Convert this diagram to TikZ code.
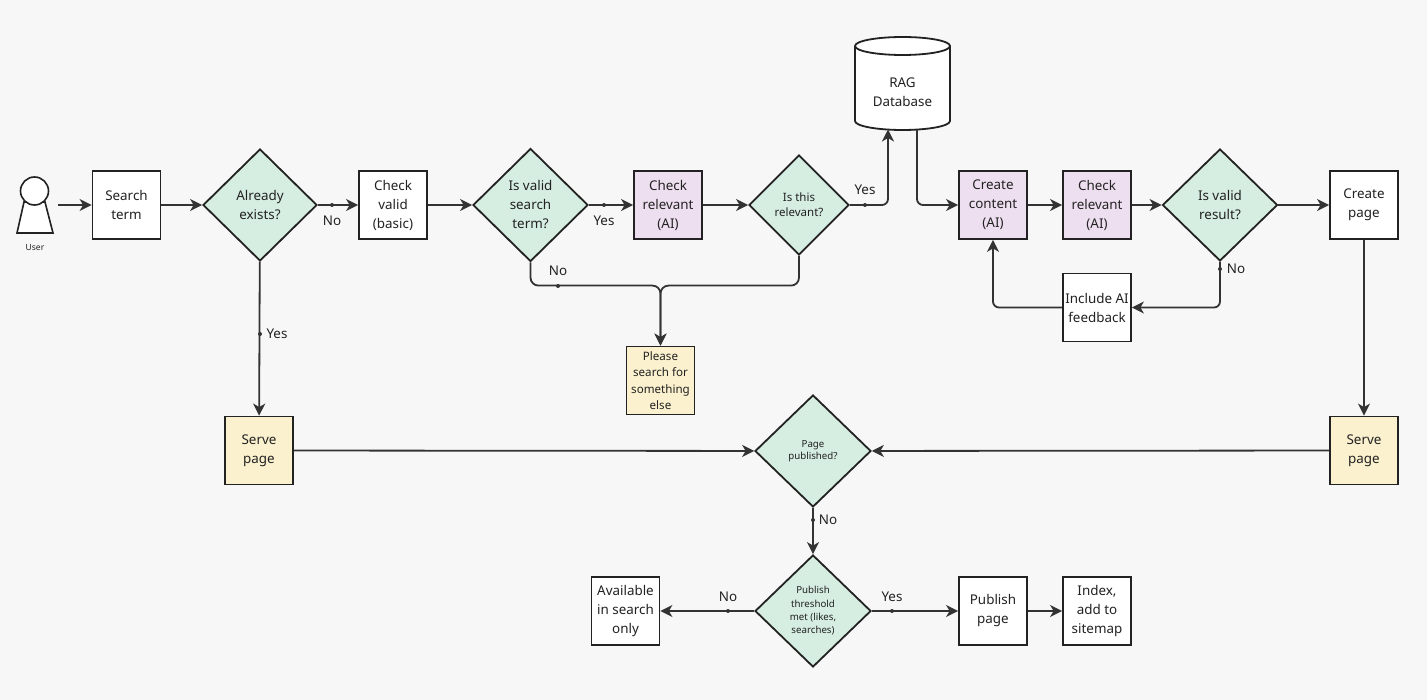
\documentclass[tikz,border=0pt]{standalone}
\usepackage{fontspec}
\setmainfont{Noto Sans}
\usetikzlibrary{shapes.geometric,arrows.meta,calc}
\definecolor{bg}{HTML}{F7F7F7}
\definecolor{ink}{HTML}{222222}
\definecolor{wire}{HTML}{333333}
\definecolor{dgreen}{HTML}{D6EDE1}
\definecolor{dpink}{HTML}{EEDFF0}
\definecolor{dyellow}{HTML}{FBF1CE}
\newcommand\fsz[2]{\fontsize{#1}{#2}\selectfont}
\begin{document}
\begin{tikzpicture}[x=1pt,y=-1pt,
  box/.style={draw=ink, line width=1.8pt, fill=white, minimum width=68pt, minimum height=68pt,
    inner sep=1pt, align=center, text=ink, font=\fsz{13.4}{19}},
  aibox/.style={box, fill=dpink},
  servebox/.style={box, fill=dyellow},
  dia/.style={diamond, draw=ink, line width=1.8pt, fill=dgreen, aspect=1, inner sep=0pt,
    align=center, text=ink, font=\fsz{13.4}{19}, minimum width=114pt, minimum height=112pt},
  conn/.style={draw=wire, line width=1.8pt, -{Stealth[length=12pt,width=12pt,inset=3.5pt]}},
  dot/.style={circle, fill=wire, inner sep=0pt, minimum size=4pt},
  lbl/.style={font=\fsz{13.4}{16}, text=ink, inner sep=0pt}]
\useasboundingbox[fill=bg] (0,0) rectangle (1427,700);

% user actor
\node[minimum width=46pt, minimum height=60pt, inner sep=0pt] (user) at (35,205) {};
\filldraw[draw=ink, fill=white, line width=1.6pt] (24,202) -- (45,202) -- (53,233) -- (17,233) -- cycle;
\filldraw[draw=ink, fill=white, line width=1.6pt] (34.5,191) circle[radius=14];
\node[font=\fsz{8.5}{10}, text=ink] (userlbl) at (35,248) {User};

% cylinder
\filldraw[fill=white, draw=ink, line width=1.8pt] (855,46) -- (855,121)
  arc[start angle=180, end angle=0, x radius=47.5, y radius=9] -- (950,46)
  arc[start angle=0, end angle=-180, x radius=47.5, y radius=9] -- cycle;
\draw[draw=ink, line width=1.8pt] (855,46) arc[start angle=180, end angle=0, x radius=47.5, y radius=9];
\node[minimum width=95pt, minimum height=93pt, inner sep=0pt, align=center, text=ink, font=\fsz{13.4}{19}] (rag) at (902.5,92.5) {RAG\\Database};
\coordinate (ragin) at (888,129.5);
\coordinate (ragout) at (917,129.5);

% nodes
\node[box] (search) at (126.5,205) {Search\\term};
\node[dia] (exists) at (260,205) {Already\\exists?};
\node[box] (checkvalid) at (393,205) {Check\\valid\\(basic)};
\node[dia, minimum width=115pt, minimum height=113pt] (isvalid) at (530.5,205) {Is valid\\search\\term?};
\node[aibox] (checkrel) at (668,205) {Check\\relevant\\(AI)};
\node[dia, minimum width=100pt, minimum height=100pt, font=\fsz{11.5}{15}] (isrel) at (799,205) {Is this\\relevant?};
\node[aibox] (create) at (993,205) {Create\\content\\(AI)};
\node[aibox] (checkrel2) at (1097,205) {Check\\relevant\\(AI)};
\node[dia, minimum width=115pt] (isres) at (1220,205) {Is valid\\result?};
\node[box] (createpage) at (1364,205) {Create\\page};
\node[box] (incl) at (1097,307.5) {Include AI\\feedback};
\node[servebox, font=\fsz{11.6}{16.5}] (please) at (660.5,380.5) {Please\\search for\\something\\else};
\node[servebox] (serve1) at (259,450.5) {Serve\\page};
\node[servebox] (serve2) at (1364,450.5) {Serve\\page};
\node[dia, minimum width=116pt, font=\fsz{9.7}{12.5}] (pagepub) at (813,451) {Page\\published?};
\node[dia, minimum width=116pt, font=\fsz{9.7}{13.3}] (pubthr) at (813,611) {Publish\\threshold\\met (likes,\\searches)};
\node[box] (avail) at (625.5,611) {Available\\in search\\only};
\node[box] (pubpage) at (993,611) {Publish\\page};
\node[box] (index) at (1097,611) {Index,\\add to\\sitemap};

\coordinate (jn) at ($(please.north)+(0,-60)$);

% connectors
\draw[conn] (user) -- (search);
\draw[conn] (search) -- (exists);
\draw[conn] (exists) -- (checkvalid);
\draw[conn] (checkvalid) -- (isvalid);
\draw[conn] (isvalid) -- (checkrel);
\draw[conn] (checkrel) -- (isrel);
\draw[conn, rounded corners=6pt] (isrel.east) -| (ragin);
\draw[conn, rounded corners=6pt] (ragout) |- (create.west);
\draw[conn] (create) -- (checkrel2);
\draw[conn] (checkrel2) -- (isres);
\draw[conn] (isres) -- (createpage);
\draw[conn, rounded corners=6pt] (isres.south) |- (incl.east);
\draw[conn, rounded corners=6pt] (incl.west) -| (create.south);
\draw[conn] (createpage) -- (serve2);
\draw[conn] (serve2) -- (pagepub);
\draw[conn] (exists) -- (serve1);
\draw[conn] (serve1) -- (pagepub);
\draw[conn] (pagepub) -- (pubthr);
\draw[conn] (pubthr) -- (avail);
\draw[conn] (pubthr) -- (pubpage);
\draw[conn] (pubpage) -- (index);
\draw[conn, rounded corners=8pt] (isvalid.south) |- (jn) -- (please.north);
\draw[conn, rounded corners=8pt] (isrel.south) |- (jn) -- (please.north);

% dots and labels
\node[dot] (d1) at (332,205) {};
\node[lbl] (l1) at (332,221) {No};
\node[dot] (d2) at (604,205) {};
\node[lbl] (l2) at (604,221) {Yes};
\node[dot] (d3) at (865,205) {};
\node[lbl] (l3) at (865,190) {Yes};
\node[dot] (d4) at (558,286) {};
\node[lbl] (l4) at (558,271) {No};
\node[dot] (d5) at (1220,269) {};
\node[lbl] (l5) at (1236,269) {No};
\node[dot] (d6) at (260,334) {};
\node[lbl] (l6) at (277,334) {Yes};
\node[dot] (d7) at (813,520) {};
\node[lbl] (l7) at (828,520) {No};
\node[dot] (d8) at (728,611) {};
\node[lbl] (l8) at (728,597) {No};
\node[dot] (d9) at (892,611) {};
\node[lbl] (l9) at (892,597) {Yes};
\end{tikzpicture}
\end{document}
